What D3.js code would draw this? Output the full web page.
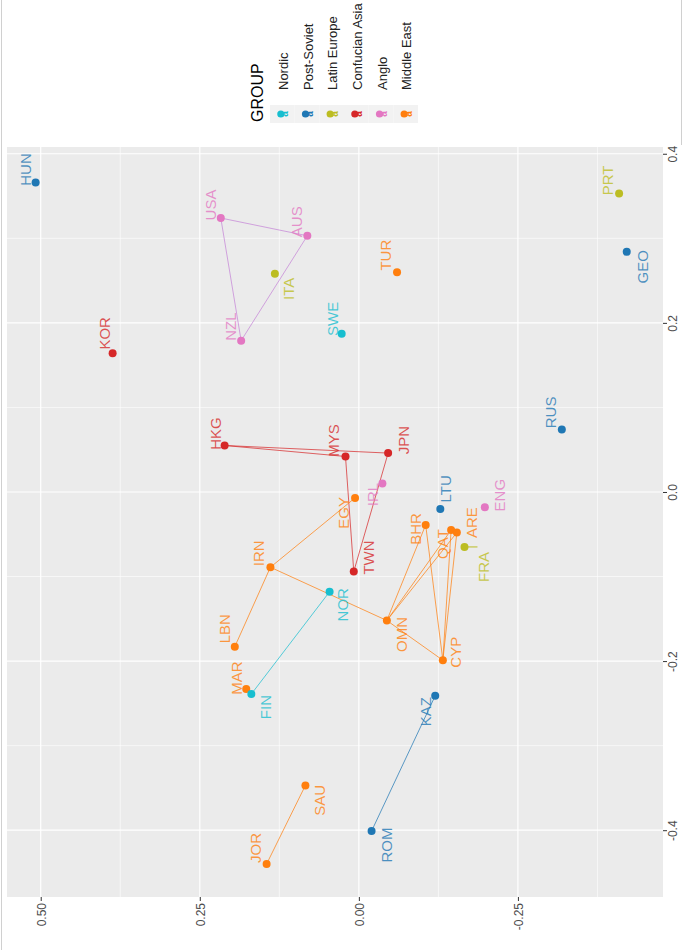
<!DOCTYPE html>
<html>
<head>
<meta charset="utf-8">
<script src="https://cdn.jsdelivr.net/npm/d3@7"></script>
<style>
  body { margin: 0; background: #fff; }
  text { font-family: "Liberation Sans", Arial, sans-serif; }
</style>
</head>
<body>
<div id="chart"></div>
<script>
// groups and their colours (legend order)
var groups = ["Nordic", "Post-Soviet", "Latin Europe", "Confucian Asia", "Anglo", "Middle East"];
var groupColours = ["#17becf", "#1f77b4", "#bcbd22", "#d62728", "#e377c2", "#ff7f0e"];
var lineColours = ["#17becf", "#1f77b4", "#bcbd22", "#d62728", "#c583d6", "#ff7f0e"];

// countries
var codes = ["HUN", "KOR", "USA", "AUS", "ITA", "NZL", "SWE", "TUR", "PRT", "GEO",
             "RUS", "HKG", "MYS", "JPN", "IRL", "EGY", "TWN", "IRN", "NOR", "LTU",
             "ENG", "BHR", "QAT", "ARE", "FRA", "LBN", "MAR", "FIN", "OMN", "CYP",
             "KAZ", "SAU", "JOR", "ROM"];
var codeGroup = ["Post-Soviet", "Confucian Asia", "Anglo", "Anglo", "Latin Europe", "Anglo", "Nordic", "Middle East", "Latin Europe", "Post-Soviet",
                 "Post-Soviet", "Confucian Asia", "Confucian Asia", "Confucian Asia", "Anglo", "Middle East", "Confucian Asia", "Middle East", "Nordic", "Post-Soviet",
                 "Anglo", "Middle East", "Middle East", "Middle East", "Latin Europe", "Middle East", "Middle East", "Nordic", "Middle East", "Middle East",
                 "Post-Soviet", "Middle East", "Middle East", "Post-Soviet"];
// dim1: value on the right-hand axis, dim2: value on the bottom axis
var dim1 = [0.366, 0.164, 0.324, 0.303, 0.258, 0.179, 0.187, 0.260, 0.353, 0.284,
            0.074, 0.055, 0.042, 0.046, 0.010, -0.007, -0.094, -0.089, -0.118, -0.020,
            -0.018, -0.039, -0.045, -0.048, -0.065, -0.183, -0.233, -0.239, -0.152, -0.199,
            -0.241, -0.347, -0.440, -0.401];
var dim2 = [0.508, 0.387, 0.217, 0.081, 0.132, 0.185, 0.027, -0.060, -0.409, -0.421,
            -0.319, 0.211, 0.021, -0.046, -0.037, 0.006, 0.008, 0.139, 0.046, -0.128,
            -0.198, -0.105, -0.145, -0.154, -0.166, 0.195, 0.177, 0.169, -0.044, -0.132,
            -0.120, 0.084, 0.145, -0.020];

// connections drawn between countries
var links = [["USA", "AUS"], ["AUS", "NZL"], ["NZL", "USA"],
             ["HKG", "MYS"], ["MYS", "TWN"], ["TWN", "JPN"], ["JPN", "HKG"],
             ["NOR", "FIN"],
             ["KAZ", "ROM"],
             ["LBN", "IRN"], ["IRN", "EGY"], ["IRN", "OMN"], ["OMN", "BHR"], ["OMN", "QAT"],
             ["OMN", "ARE"], ["OMN", "CYP"], ["CYP", "BHR"], ["CYP", "QAT"], ["CYP", "ARE"],
             ["JOR", "SAU"]];

var xTicks = [0.5, 0.25, 0, -0.25];
var xMinor = [0.375, 0.125, -0.125, -0.375];
var yTicks = [0.4, 0.2, 0, -0.2, -0.4];
var yMinor = [0.3, 0.1, -0.1, -0.3];

// label placement (screen pixels from the point), like ggrepel put them
var labelShift = {
  HUN: [-10, -13], KOR: [-8, -20], USA: [-10, -13], AUS: [-11, -14], ITA: [14, 15],
  NZL: [-11, -14], SWE: [-9, -15], TUR: [-11, -17], PRT: [-12, -13], GEO: [16, 15],
  RUS: [-11, -17], HKG: [-9, -12], MYS: [-12, -16], JPN: [15, -13], IRL: [-10, 11],
  EGY: [-11, 15], TWN: [15, -14], IRN: [-12, -14], NOR: [13, 13], LTU: [5, -20],
  ENG: [15, -12], BHR: [-10, 4], QAT: [-9, 14], ARE: [15, -10], FRA: [19, 20],
  LBN: [-10, -18], MAR: [-10, -11], FIN: [14, 13], OMN: [15, 14], CYP: [13, -8],
  KAZ: [-10, 16], SAU: [14, 15], JOR: [-11, -16], ROM: [15, 14]
};
var segmentFor = ["FRA"];

var W = 683, H = 950;
var panel = {left: 7, right: 663, top: 147, bottom: 897};

var svg = d3.select("#chart")
    .append("svg")
    .attr("width", W)
    .attr("height", H);

// frame of the picture
svg.append("line").attr("x1", 1.5).attr("x2", 1.5).attr("y1", 0).attr("y2", H)
    .attr("stroke", "#d0d0d0");
svg.append("line").attr("x1", 681.5).attr("x2", 681.5).attr("y1", 0).attr("y2", 145)
    .attr("stroke", "#d0d0d0");

var x = d3.scaleLinear().domain([0.553, -0.478]).range([panel.left, panel.right]);
var y = d3.scaleLinear().domain([0.408, -0.479]).range([panel.top, panel.bottom]);

var colour = d3.scaleOrdinal().domain(groups).range(groupColours);
var lineColour = d3.scaleOrdinal().domain(groups).range(lineColours);

// panel background + grid
svg.append("rect")
    .attr("x", panel.left).attr("y", panel.top)
    .attr("width", panel.right - panel.left).attr("height", panel.bottom - panel.top)
    .attr("fill", "#ebebeb");

var grid = svg.append("g");
grid.selectAll(".vminor").data(xMinor).join("line")
    .attr("x1", d => x(d)).attr("x2", d => x(d))
    .attr("y1", panel.top).attr("y2", panel.bottom)
    .attr("stroke", "#fff").attr("stroke-width", 0.6);
grid.selectAll(".hminor").data(yMinor).join("line")
    .attr("y1", d => y(d)).attr("y2", d => y(d))
    .attr("x1", panel.left).attr("x2", panel.right)
    .attr("stroke", "#fff").attr("stroke-width", 0.6);
grid.selectAll(".vmajor").data(xTicks).join("line")
    .attr("x1", d => x(d)).attr("x2", d => x(d))
    .attr("y1", panel.top).attr("y2", panel.bottom)
    .attr("stroke", "#fff").attr("stroke-width", 1.2);
grid.selectAll(".hmajor").data(yTicks).join("line")
    .attr("y1", d => y(d)).attr("y2", d => y(d))
    .attr("x1", panel.left).attr("x2", panel.right)
    .attr("stroke", "#fff").attr("stroke-width", 1.2);

// axes
var xAxis = svg.append("g")
    .attr("transform", "translate(0," + panel.bottom + ")")
    .call(d3.axisBottom(x).tickValues(xTicks).tickSize(4).tickSizeOuter(0)
        .tickFormat(d => d.toFixed(2)));
xAxis.select(".domain").remove();
xAxis.selectAll(".tick line").attr("stroke", "#333");
xAxis.selectAll(".tick text")
    .attr("transform", "rotate(-90)")
    .attr("x", -6).attr("y", 4.5).attr("dy", 0)
    .attr("text-anchor", "end")
    .attr("fill", "#4d4d4d")
    .style("font-size", "12px");

var yAxis = svg.append("g")
    .attr("transform", "translate(" + panel.right + ",0)")
    .call(d3.axisRight(y).tickValues(yTicks).tickSize(4).tickSizeOuter(0)
        .tickFormat(d => d.toFixed(1)));
yAxis.select(".domain").remove();
yAxis.selectAll(".tick line").attr("stroke", "#333");
yAxis.selectAll(".tick text")
    .attr("transform", "rotate(-90)")
    .attr("x", 0).attr("y", 14).attr("dy", 0)
    .attr("text-anchor", "middle")
    .attr("fill", "#4d4d4d")
    .style("font-size", "12px");

// data table
var countries = codes.map(function (c, i) {
    return {code: c, group: codeGroup[i], d1: dim1[i], d2: dim2[i]};
});
var byCode = {};
countries.forEach(function (d) { byCode[d.code] = d; });

// lines
svg.append("g").selectAll("line")
    .data(links)
    .join("line")
    .attr("x1", d => x(byCode[d[0]].d2))
    .attr("y1", d => y(byCode[d[0]].d1))
    .attr("x2", d => x(byCode[d[1]].d2))
    .attr("y2", d => y(byCode[d[1]].d1))
    .attr("stroke", d => lineColour(byCode[d[0]].group))
    .attr("stroke-opacity", 0.85)
    .attr("stroke-width", 0.85);

// label segments
svg.append("g").selectAll("line")
    .data(countries.filter(d => segmentFor.indexOf(d.code) >= 0))
    .join("line")
    .attr("x1", d => x(d.d2))
    .attr("y1", d => y(d.d1))
    .attr("x2", d => x(d.d2) + labelShift[d.code][0] - 6)
    .attr("y2", d => y(d.d1))
    .attr("stroke", d => colour(d.group))
    .attr("stroke-width", 1);

// points
svg.append("g").selectAll("circle")
    .data(countries)
    .join("circle")
    .attr("cx", d => x(d.d2))
    .attr("cy", d => y(d.d1))
    .attr("r", 4)
    .attr("fill", d => colour(d.group));

// labels
svg.append("g").selectAll("text")
    .data(countries)
    .join("text")
    .attr("transform", function (d) {
        var s = labelShift[d.code];
        return "translate(" + (x(d.d2) + s[0]) + "," + (y(d.d1) + s[1]) + ") rotate(-90)";
    })
    .attr("text-anchor", "middle")
    .attr("dy", "0.36em")
    .attr("fill", d => colour(d.group))
    .attr("fill-opacity", 0.78)
    .style("font-size", "15px")
    .text(d => d.code);

// legend
var legend = svg.append("g");
legend.append("text")
    .attr("transform", "translate(263,122) rotate(-90)")
    .attr("text-anchor", "start")
    .attr("fill", "#000")
    .style("font-size", "16px")
    .text("GROUP");

var keyX = d3.scaleBand().domain(groups).range([270, 418]);
var keys = legend.selectAll(".key")
    .data(groups)
    .join("g")
    .attr("transform", d => "translate(" + (keyX(d) + keyX.bandwidth() / 2) + ",0)");
keys.append("rect")
    .attr("x", -keyX.bandwidth() / 2).attr("y", 105)
    .attr("width", keyX.bandwidth()).attr("height", 18)
    .attr("fill", "#f2f2f2");
keys.append("circle")
    .attr("cx", -1.5).attr("cy", 114)
    .attr("r", 3.6)
    .attr("fill", d => colour(d));
keys.append("text")
    .attr("transform", "translate(2.5,114) rotate(-90)")
    .attr("text-anchor", "middle")
    .attr("dy", "0.35em")
    .attr("fill", d => colour(d))
    .style("font-size", "10px")
    .style("font-weight", "bold")
    .text("a");
keys.append("text")
    .attr("transform", "translate(5.5,90) rotate(-90)")
    .attr("text-anchor", "start")
    .attr("fill", "#222")
    .style("font-size", "13px")
    .text(d => d);
</script>
</body>
</html>
